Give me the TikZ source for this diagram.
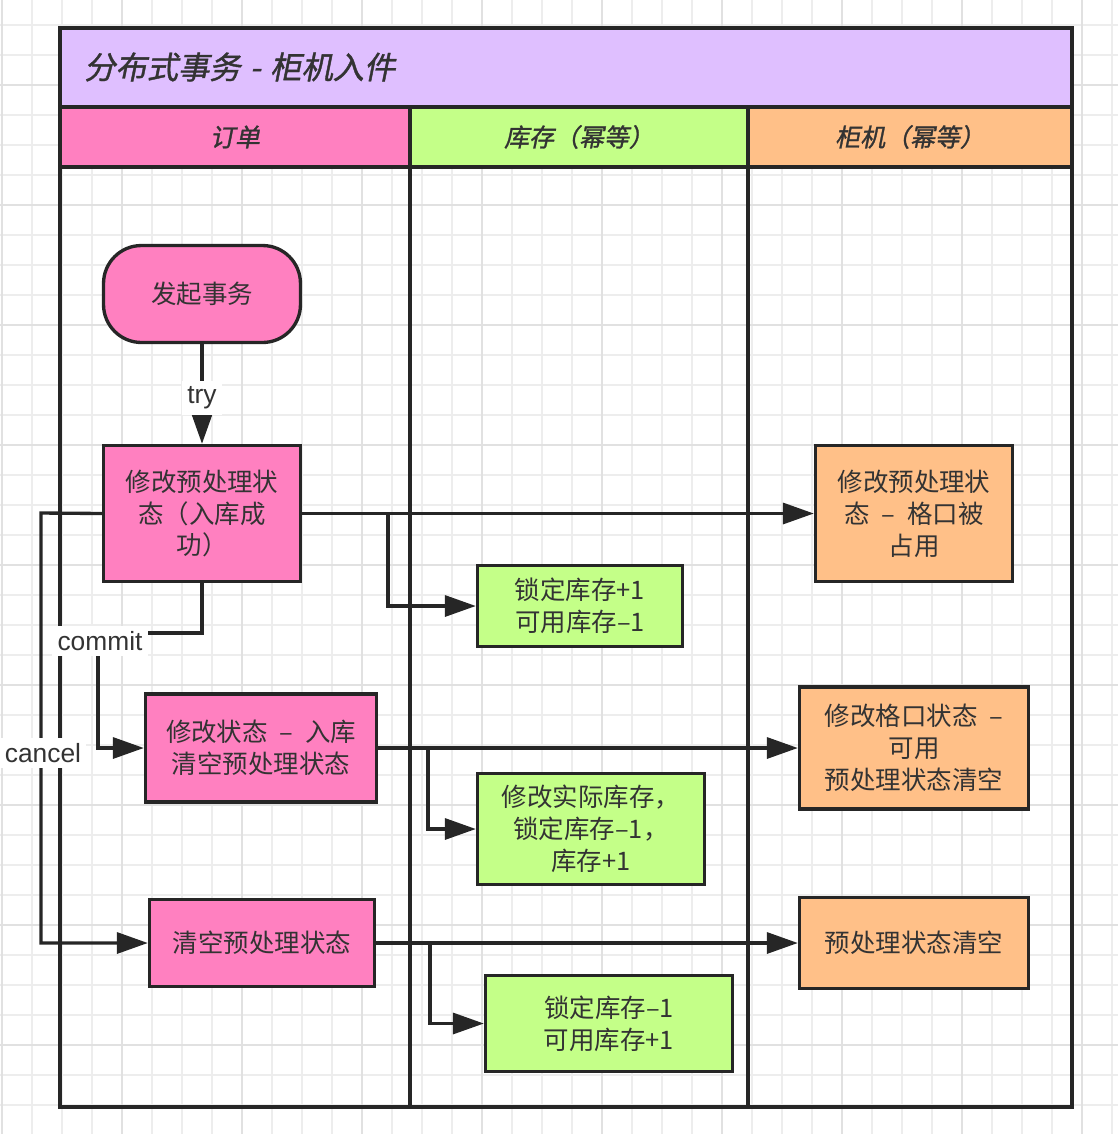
\documentclass[tikz,border=0pt]{standalone}
\usepackage{fontspec}
\usetikzlibrary{arrows.meta, calc, positioning}
\newfontfamily\cjk{Noto Sans CJK SC}
\newfontfamily\cjkhead[FakeSlant=0.2, FakeBold=1.2]{Noto Sans CJK SC}
\newfontfamily\latinlabel{Liberation Sans}
\definecolor{gridMinor}{HTML}{EDEDED}
\definecolor{gridMajor}{HTML}{E1E1E1}
\definecolor{lineDark}{HTML}{262626}
\definecolor{textDark}{HTML}{333333}
\definecolor{poolPurple}{HTML}{DFBFFF}
\definecolor{orderPink}{HTML}{FF80C0}
\definecolor{stockGreen}{HTML}{C4FF88}
\definecolor{cabOrange}{HTML}{FFC088}
\tikzset{
    task/.style={rectangle, draw=lineDark, line width=1.9pt, align=center, text=textDark, font=\cjk\fontsize{14.5}{18.2}\selectfont, inner sep=2pt},
    orderTask/.style={task, fill=orderPink},
    stockTask/.style={task, fill=stockGreen},
    cabTask/.style={task, fill=cabOrange},
    startTask/.style={orderTask, rounded corners=0.76cm},
    flowEdge/.style={-{Triangle[length=0.62cm, width=0.42cm]}, draw=lineDark, line width=1.9pt},
    flowLabel/.style={fill=white, text=textDark, font=\latinlabel\fontsize{15}{18}\selectfont, inner sep=3pt},
    laneText/.style={text=textDark, font=\cjkhead\fontsize{14.2}{17}\selectfont},
    poolLine/.style={draw=lineDark, line width=2.3pt},
}
\newcommand{\dash}{\hspace{0.46em}–\hspace{0.46em}}
\newcommand{\drawSplit}[4]{
    \draw[flowEdge] (#1.east) -- (#2.west);
    \path (#1.east) ++(#4,0) coordinate (#1Split);
    \draw[flowEdge] (#1Split) |- (#3.west);
}
\begin{document}
\begin{tikzpicture}[x=0.02cm, y=-0.02cm]

    \useasboundingbox (0,0) rectangle (1118,1134);
    % 背景网格
    \begin{scope}
        \clip (0,0) rectangle (1118,1134);
        \foreach \gx in {1.7,31.7,...,1118} \draw[gridMinor, line width=1.1pt] (\gx,0) -- (\gx,1134);
        \foreach \gy in {25,55,...,1134} \draw[gridMinor, line width=1.1pt] (0,\gy) -- (1118,\gy);
        \foreach \gx in {1.7,121.7,...,1118} \draw[gridMajor, line width=1.1pt] (\gx,0) -- (\gx,1134);
        \foreach \gy in {85,205,...,1134} \draw[gridMajor, line width=1.1pt] (0,\gy) -- (1118,\gy);
    \end{scope}

    % 泳池
    \fill[poolPurple] (60,28) rectangle (1072,107);
    \fill[orderPink] (60,107) rectangle (410,167);
    \fill[stockGreen] (410,107) rectangle (748,167);
    \fill[cabOrange] (748,107) rectangle (1072,167);
    \draw[poolLine] (60,28) rectangle (1072,1107);
    \draw[poolLine] (60,107) -- (1072,107);
    \draw[poolLine] (60,167) -- (1072,167);
    \draw[poolLine] (410,107) -- (410,1107);
    \draw[poolLine] (748,107) -- (748,1107);

    \node[laneText, font=\cjkhead\fontsize{17.8}{20}\selectfont, anchor=west] (title) at (78,67) {分布式事务\hspace{0.3em}-\hspace{0.3em}柜机入件};
    \node[laneText] (laneOrder) at (235,137) {订单};
    \node[laneText] (laneStock) at (579,137) {库存（幂等）};
    \node[laneText] (laneCab) at (910,137) {柜机（幂等）};

    \node[startTask, minimum width=3.94cm, minimum height=1.94cm] (start) at (202,294) {发起事务};
    \node[orderTask, minimum width=3.94cm, minimum height=2.72cm] (a1) at (202,513.5) {修改预处理状\\态（入库成\\功）};
    \node[orderTask, minimum width=4.62cm, minimum height=2.16cm] (a2) at (261,748) {修改状态\dash 入库\\清空预处理状态};
    \node[orderTask, minimum width=4.5cm, minimum height=1.74cm] (a3) at (262,943) {清空预处理状态};

    \node[stockTask, minimum width=4.1cm, minimum height=1.62cm] (g1) at (580,606) {锁定库存+1\\可用库存–1};
    \node[stockTask, minimum width=4.54cm, minimum height=2.22cm] (g2) at (591,829) {修改实际库存，\\锁定库存–1，\\库存+1};
    \node[stockTask, minimum width=4.94cm, minimum height=1.92cm] (g3) at (609,1023.5) {锁定库存–1\\可用库存+1};

    \node[cabTask, minimum width=3.94cm, minimum height=2.72cm] (o1) at (914,513.5) {修改预处理状\\态\dash 格口被\\占用};
    \node[cabTask, minimum width=4.58cm, minimum height=2.44cm] (o2) at (914,748) {修改格口状态\dash\\可用\\预处理状态清空};
    \node[cabTask, minimum width=4.58cm, minimum height=1.82cm] (o3) at (914,943) {预处理状态清空};

    \draw[flowEdge] (start) -- node[flowLabel, pos=0.54] (tryLabel) {try} (a1);
    \drawSplit{a1}{o1}{g1}{86}
    \drawSplit{a2}{o2}{g2}{50}
    \drawSplit{a3}{o3}{g3}{54}

    \coordinate (commitTurn) at (98,633);
    \draw[flowEdge] (a1.south) |- (commitTurn) |- (a2.west);
    \coordinate (cancelTurn) at (41,513);
    \draw[flowEdge] (a1.west) -- (cancelTurn) |- (a3.west);
    \node[flowLabel] (commitLabel) at (100,641) {commit};
    \node[flowLabel] (cancelLabel) at (43,753) {cancel};

\end{tikzpicture}
\end{document}
